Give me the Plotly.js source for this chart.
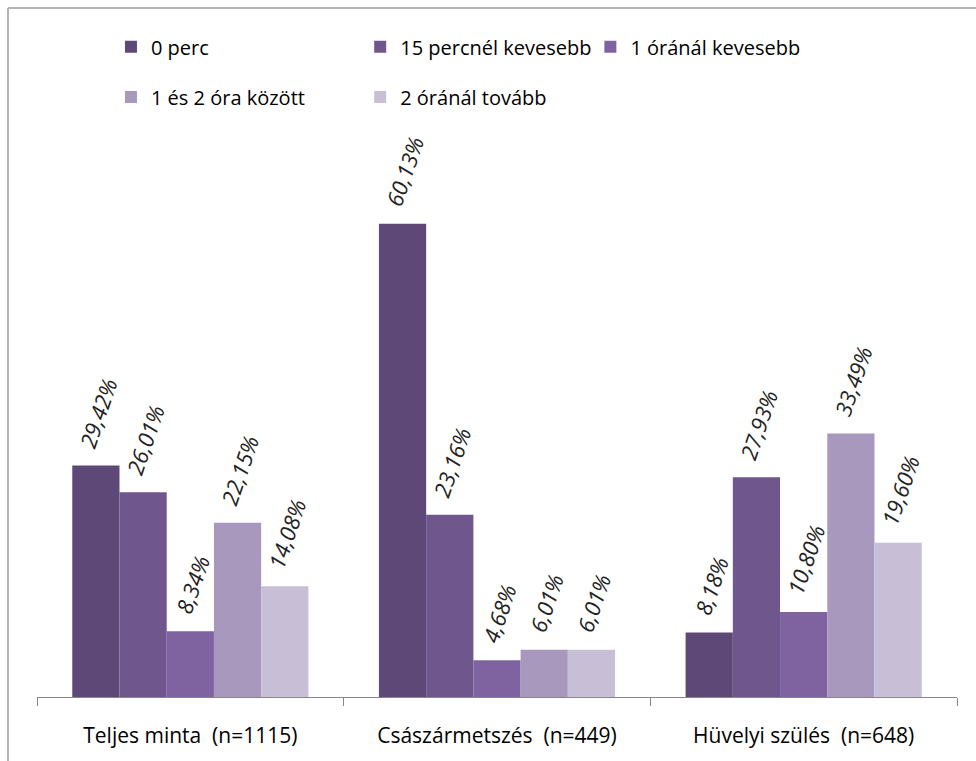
<!DOCTYPE html>
<html>
<head>
<meta charset="utf-8">
<script src="https://cdn.plot.ly/plotly-3.0.1.min.js"></script>
<style>
html,body{margin:0;padding:0;background:#fff;}
#chart{width:976px;height:761px;}
</style>
</head>
<body>
<div id="chart"></div>
<script>
const categories = ["Teljes minta  (n=1115)", "Császármetszés  (n=449)", "Hüvelyi szülés  (n=648)"];
const seriesNames = ["0 perc", "15 percnél kevesebb", "1 óránál kevesebb", "1 és 2 óra között", "2 óránál tovább"];
const perc0 = [29.42, 60.13, 8.18];
const perc15 = [26.01, 23.16, 27.93];
const ora1 = [8.34, 4.68, 10.80];
const ora1_2 = [22.15, 6.01, 33.49];
const ora2plus = [14.08, 6.01, 19.60];

const seriesValues = [perc0, perc15, ora1, ora1_2, ora2plus];
const colors = ["#5e4878", "#6f568c", "#7f63a0", "#a898be", "#c8bfd7"];
const legendIds = ["legend", "legend2", "legend3", "legend4", "legend5"];
const legendPos = [[0.0804, 1.18], [0.3513, 1.18], [0.6015, 1.18], [0.0804, 1.089], [0.3513, 1.089]];

const fontFam = "'Open Sans', 'Noto Sans', 'Liberation Sans', Arial, sans-serif";
const fmt = v => "\u00A0\u00A0" + v.toFixed(2).replace('.', ',') + '%';

const traces = seriesValues.map((vals, i) => ({
  type: 'bar',
  name: seriesNames[i],
  x: categories,
  y: vals,
  text: vals.map(fmt),
  textposition: 'outside',
  textangle: -71,
  constraintext: 'none',
  cliponaxis: false,
  textfont: {family: fontFam, size: 22, color: '#222', style: 'italic'},
  marker: {color: colors[i], line: {width: 0}},
  legend: legendIds[i],
  hoverinfo: 'none'
}));

const layout = {
  width: 976, height: 761,
  margin: {l: 37, r: 19, t: 146, b: 64},
  paper_bgcolor: '#fff', plot_bgcolor: '#fff',
  barmode: 'group',
  bargap: 0.23,
  bargroupgap: 0,
  showlegend: true,
  font: {family: fontFam, size: 20, color: '#000'},
  xaxis: {
    type: 'category',
    showline: true, linecolor: '#868686', linewidth: 1,
    ticks: 'outside', tickson: 'boundaries', ticklen: 8, tickcolor: '#868686',
    ticklabelstandoff: 20,
    tickfont: {family: fontFam, size: 21, color: '#000'},
    showgrid: false, zeroline: false
  },
  yaxis: {
    range: [0, 70], visible: false, showgrid: false, zeroline: false, fixedrange: true
  },
  shapes: [
    {type: 'line', xref: 'paper', yref: 'paper', x0: -0.0315, x1: 1.1, y0: 1.2505, y1: 1.2505, line: {color: '#b4b4b4', width: 2}, layer: 'below'},
    {type: 'line', xref: 'paper', yref: 'paper', x0: -0.0315, x1: -0.0315, y0: -0.2, y1: 1.2505, line: {color: '#b4b4b4', width: 2}, layer: 'below'}
  ]
};
legendIds.forEach((id, i) => {
  layout[id] = {
    x: legendPos[i][0], y: legendPos[i][1], xanchor: 'left', yanchor: 'middle',
    orientation: 'h', bgcolor: 'rgba(0,0,0,0)', borderwidth: 0,
    font: {family: fontFam, size: 20, color: '#000'}
  };
});

Plotly.newPlot('chart', traces, layout, {staticPlot: true, displayModeBar: false});
</script>
</body>
</html>
